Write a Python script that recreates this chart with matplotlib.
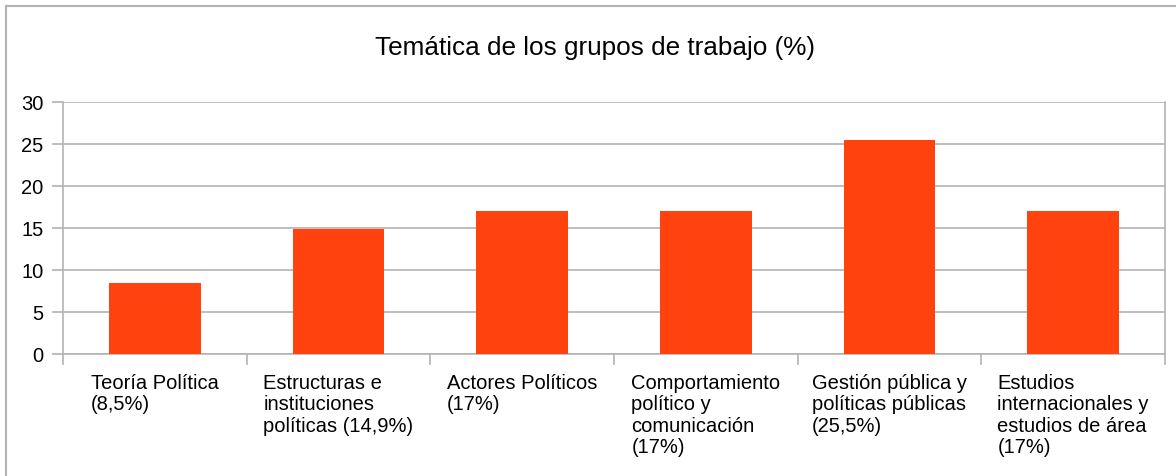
import matplotlib
matplotlib.use("Agg")
import matplotlib.pyplot as plt
from matplotlib.lines import Line2D
from matplotlib.transforms import blended_transform_factory

categories = [
    "Teoría Política\n(8,5%)",
    "Estructuras e\ninstituciones\npolíticas (14,9%)",
    "Actores Políticos\n(17%)",
    "Comportamiento\npolítico y\ncomunicación\n(17%)",
    "Gestión pública y\npolíticas públicas\n(25,5%)",
    "Estudios\ninternacionales y\nestudios de área\n(17%)",
]
values = [8.5, 14.9, 17, 17, 25.5, 17]
yticks = [0, 5, 10, 15, 20, 25, 30]
title = "Temática de los grupos de trabajo (%)"

plt.rcParams['font.family'] = ['Liberation Sans', 'DejaVu Sans']

W, H = 1176, 477
fig = plt.figure(figsize=(W / 100, H / 100), dpi=100)
grid_c = '#b3b3b3'

L, R, T, B = 63, 1165, 103, 355
ax = fig.add_axes([L / W, 1 - B / H, (R - L) / W, (B - T) / H])

x = list(range(len(values)))
ax.bar(x, values, width=0.5, color='#FF420E', zorder=3)
ax.set_xlim(-0.5, len(values) - 0.5)
ax.set_ylim(0, 30)
ax.set_yticks(yticks)
ax.set_yticklabels([str(v) for v in yticks], fontsize=14.5)
ax.yaxis.grid(True, color=grid_c, linewidth=1.2, zorder=0)
ax.tick_params(axis='y', length=8, width=1.2, color=grid_c, pad=6)

ax.set_xticks([i - 0.5 for i in range(len(values) + 1)])
ax.set_xticklabels([])
ax.tick_params(axis='x', length=8, width=1.2, color=grid_c)

ax.spines['top'].set_visible(False)
for s in ['left', 'bottom', 'right']:
    ax.spines[s].set_color(grid_c)
    ax.spines[s].set_linewidth(1.2)

trans = blended_transform_factory(ax.transData, ax.transAxes)
for i, lab in enumerate(categories):
    ax.text(i, -(374 - B) / (B - T), lab, transform=trans,
            ha='center', va='top', multialignment='left',
            fontsize=14.5, linespacing=1.16)

fig.text(595 / W, 1 - 48 / H, title, ha='center', va='center', fontsize=18.8)

fig.add_artist(Line2D([6 / W, 1], [1 - 7 / H, 1 - 7 / H], color=grid_c, linewidth=1.5,
                      transform=fig.transFigure))
fig.add_artist(Line2D([6 / W, 6 / W], [0, 1 - 7 / H], color=grid_c, linewidth=1.5,
                      transform=fig.transFigure))

fig.savefig("out.png", dpi=100)
